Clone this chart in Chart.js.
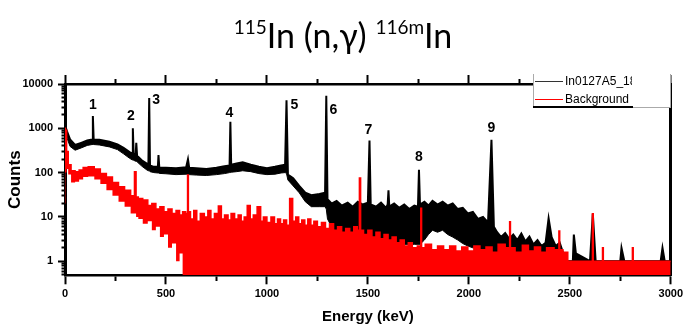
<!DOCTYPE html>
<html>
<head>
<meta charset="utf-8">
<script src="https://cdn.jsdelivr.net/npm/chart.js@4.4.0/dist/chart.umd.min.js"></script>
<style>
  html, body { margin: 0; padding: 0; background: #fff; }
  #wrap { position: relative; width: 686px; height: 326px; }
  #chart { position: absolute; left: 0; top: 0; }
  #title { position: absolute; left: 0; top: 12px; width: 686px; text-align: center;
           font-family: Lato, "Open Sans", sans-serif; font-size: 34px; line-height: 46px; color: #000; }
  #title sup { font-size: 19px; vertical-align: top; line-height: 30px; }
</style>
</head>
<body>
<div id="wrap">
  <canvas id="chart" width="686" height="326"></canvas>
  <div id="title"><sup>115</sup>In (n,γ) <sup>116m</sup>In</div>
</div>
<script>
// measured spectrum (black) : energy keV, upper / lower edge of the noisy trace
const blkE  = [2, 5, 10, 25, 50, 80, 110, 134, 138, 142, 170, 220, 260, 290, 320, 332, 336, 340, 350, 353, 357,
  380, 405, 413, 417, 421, 440, 460, 463, 467, 500, 550, 600, 609, 615, 650, 700, 750, 790, 815, 819, 823,
  850, 880, 920, 960, 1000, 1040, 1070, 1090, 1097, 1104, 1130, 1160, 1190, 1220, 1260, 1288, 1294, 1300,
  1320, 1345, 1370, 1400, 1425, 1450, 1475, 1500, 1508, 1514, 1540, 1565, 1590, 1598, 1602, 1606,
  1630, 1655, 1680, 1705, 1730, 1748, 1753, 1758, 1780, 1800, 1820, 1845, 1870, 1895, 1920, 1945, 1970,
  1995, 2020, 2045, 2070, 2095, 2112, 2124, 2140, 2160, 2180, 2200, 2220, 2240, 2260, 2280, 2300, 2320,
  2340, 2360, 2380, 2395, 2410, 2430, 2450, 2480, 2515, 2520, 2530, 2600, 2614, 2628, 2750, 2756, 2770,
  2950, 2959, 2970, 3000];
const blkHi = [1100, 1000, 850, 560, 420, 470, 530, 560, 1900, 560, 550, 500, 430, 360, 290, 270, 1000, 260, 250, 470, 240,
  190, 160, 150, 4800, 145, 135, 135, 250, 130, 128, 125, 132, 200, 128, 125, 120, 128, 140, 145, 1400, 150,
  160, 170, 150, 135, 125, 135, 145, 150, 4300, 90, 75, 50, 35, 31, 33, 35, 5400, 25,
  20, 23, 18, 21, 17, 22, 19, 21, 530, 19, 17, 21, 16, 19, 40, 17,
  20, 16, 19, 15, 18, 17, 115, 19, 22, 18, 23, 19, 22, 18, 20, 15, 16,
  12, 13, 9, 10, 7.5, 547, 6, 4.5, 3.5, 4.3, 3.2, 4, 3, 4.2, 2.8, 3.6, 2.4,
  3, 2.2, 2.6, 9.3, 3.5, 2.2, 2.6, 1, 1, 4, 1.5, 1, 11.7, 1, 1, 2, 1,
  1, 2, 1, 1];
const blkLo = [1, 600, 600, 390, 320, 360, 410, 430, 430, 430, 420, 380, 330, 265, 210, 195, 195, 190, 180, 180, 175,
  140, 115, 110, 110, 105, 100, 98, 98, 96, 94, 90, 92, 92, 90, 88, 86, 90, 95, 100, 100, 102,
  105, 110, 105, 95, 90, 92, 98, 100, 95, 68, 50, 35, 22, 17, 17, 17, 15, 9,
  6, 4.5, 4, 4, 4, 4, 4, 3.5, 3.5, 3.5, 3, 3, 3, 3, 3, 3,
  2.6, 2.6, 2.4, 2.4, 2.4, 2.4, 2.4, 2.4, 3, 4, 5, 4.5, 5, 4, 3.5, 3, 2.5,
  2.2, 2, 2, 1.5, 1.5, 1.5, 1, 1, 1, 1, 1, 1, 1, 1, 1, 1, 1,
  1, 1, 1, 1, 1, 1, 1, 1, 1, 1, 1, 1, 1, 1, 1, 1, 1,
  1, 1, 1, 1];

// background spectrum (red)
const redE  = [0, 4, 12, 20, 40, 60, 80, 100, 130, 160, 190, 220, 250, 280, 310, 340, 348, 356, 370, 400, 420,
  440, 460, 480, 500, 520, 540, 560, 575, 590, 605, 609, 613, 630, 645, 660, 680, 700, 715, 730, 750, 769,
  780, 800, 815, 830, 850, 865, 880, 895, 910, 925, 940, 963, 975, 990, 1010, 1030, 1045, 1060, 1075,
  1090, 1105, 1120, 1135, 1150, 1165, 1180, 1195, 1210, 1225, 1240, 1260, 1280, 1300, 1320, 1340, 1360,
  1380, 1400, 1420, 1440, 1455, 1461, 1467, 1490, 1510, 1530, 1550, 1570, 1590, 1610, 1630, 1650, 1670,
  1690, 1710, 1730, 1760, 1764, 1768, 1800, 1830, 1860, 1890, 1920, 1950, 1980, 2010, 2040, 2070, 2100,
  2130, 2160, 2200, 2204, 2208, 2250, 2280, 2310, 2340, 2370, 2400, 2444, 2448, 2452, 2480, 2500, 2610,
  2614, 2618, 2660, 2664, 2668, 2808, 2812, 2816, 3000];
const redHi = [1000, 900, 300, 150, 110, 105, 115, 130, 135, 120, 95, 80, 60, 48, 40, 30, 105, 28, 26, 24, 18,
  20, 15, 17, 13, 15, 12, 14, 11, 13, 12, 88, 13, 9, 14, 8, 12, 10, 14, 9, 12, 17.7,
  9, 11, 8.5, 12, 9, 11, 8, 10, 18, 9, 11, 17, 8, 10, 7.5, 10, 7, 9, 7,
  8.5, 6.5, 26, 8, 10, 7, 8.5, 6.5, 9, 6.5, 8, 6, 7.5, 5.5, 7, 5, 6,
  4.5, 5.5, 4.5, 6, 5, 75, 5, 4, 5, 3.5, 4.5, 3.2, 4, 3, 3.5, 2.6, 3,
  2.2, 2.6, 2, 2.2, 15.7, 2, 2.4, 1.8, 2.2, 1.8, 2.2, 1.7, 2.1, 1.7, 2.2, 1.8, 2.1,
  1.6, 2.4, 2, 7.8, 2, 1.6, 2.3, 1.7, 2.1, 1.6, 2, 1.8, 4.8, 1.8, 1.6, 1, 1,
  11.7, 1, 1, 2, 1, 1, 2, 1, 1];
const redLo = [20, 100, 120, 90, 60, 62, 70, 80, 82, 70, 55, 40, 30, 22, 17, 12, 12, 10, 9, 7, 8,
  5, 6, 3.5, 4, 2, 2.5, 1, 1.5, 0.48, 0.48, 0.48, 0.48, 0.48, 0.48, 0.48, 0.48, 0.48, 0.48, 0.48, 0.48, 0.48,
  0.48, 0.48, 0.48, 0.48, 0.48, 0.48, 0.48, 0.48, 0.48, 0.48, 0.48, 0.48, 0.48, 0.48, 0.48, 0.48, 0.48, 0.48, 0.48,
  0.48, 0.48, 0.48, 0.48, 0.48, 0.48, 0.48, 0.48, 0.48, 0.48, 0.48, 0.48, 0.48, 0.48, 0.48, 0.48, 0.48,
  0.48, 0.48, 0.48, 0.48, 0.48, 0.48, 0.48, 0.48, 0.48, 0.48, 0.48, 0.48, 0.48, 0.48, 0.48, 0.48, 0.48,
  0.48, 0.48, 0.48, 0.48, 0.48, 0.48, 0.48, 0.48, 0.48, 0.48, 0.48, 0.48, 0.48, 0.48, 0.48, 0.48, 0.48,
  0.48, 0.48, 0.48, 0.48, 0.48, 0.48, 0.48, 0.48, 0.48, 0.48, 0.48, 0.48, 0.48, 0.48, 0.48, 0.48, 0.48,
  0.48, 0.48, 0.48, 0.48, 0.48, 0.48, 0.48, 0.48, 0.48];

// labelled In-116m / In-115m lines
const peakE   = [138, 336, 417, 819, 1097, 1294, 1508, 1753, 2112];
const peakTag = ['1', '2', '3', '4', '5', '6', '7', '8', '9'];

const seriesNames = ['In0127A5_18', 'Background'];
const xTicks = [0, 250, 500, 750, 1000, 1250, 1500, 1750, 2000, 2250, 2500, 2750, 3000];
const yMajor = [1, 10, 100, 1000, 10000];
const yTicks = [0.5, 0.6, 0.7, 0.8, 0.9, 1, 2, 3, 4, 5, 6, 7, 8, 9, 10, 20, 30, 40, 50, 60, 70, 80, 90,
  100, 200, 300, 400, 500, 600, 700, 800, 900, 1000, 2000, 3000, 4000, 5000, 6000, 7000, 8000, 9000, 10000];

const pts = (xs, ys) => xs.map((x, i) => ({ x: x, y: ys[i] }));

const boldFont = size => ({ family: 'Arial, "Liberation Sans"', weight: 'bold', size: size });

// minor ticks: shorter mark, drawn with a dash so only the part next to the axis shows
const dashBottom = c => (c.tick && c.tick.value % 500 !== 0) ? [4.5, 30] : [];
const dashTop = c => (c.tick && c.tick.value % 500 !== 0) ? [0, 4, 5, 30] : [];
const dashLeft = c => (c.tick && !yMajor.includes(c.tick.value)) ? [0, 3.5, 4, 30] : [];

const labelOffsets = [[0, -11], [-2, -12], [7, 2], [-1, -9], [8, 5], [7, 14], [-1, -10], [0, -13], [0, -12]];

const peakLabels = {
  id: 'peakLabels',
  afterDatasetsDraw(chart) {
    const c = chart.ctx, xs = chart.scales.x, ys = chart.scales.y;
    c.save();
    c.fillStyle = '#000';
    c.font = 'bold 14px Arial, "Liberation Sans"';
    c.textAlign = 'center';
    c.textBaseline = 'middle';
    peakE.forEach((e, i) => {
      const h = blkHi[blkE.indexOf(e)];
      c.fillText(peakTag[i], xs.getPixelForValue(e) + labelOffsets[i][0], ys.getPixelForValue(h) + labelOffsets[i][1]);
    });
    c.restore();
  }
};

const boxLegend = {
  id: 'boxLegend',
  afterDraw(chart) {
    const c = chart.ctx;
    c.save();
    c.fillStyle = '#fff';
    c.fillRect(533, 74, 138, 34);
    c.strokeStyle = '#aaa';
    c.lineWidth = 1;
    c.beginPath();
    c.moveTo(533.5, 74); c.lineTo(533.5, 107);
    c.moveTo(670.5, 74); c.lineTo(670.5, 108);
    c.moveTo(633, 107.5); c.lineTo(671, 107.5);
    c.stroke();
    c.strokeStyle = '#000';
    c.lineWidth = 2;
    c.beginPath();
    c.moveTo(533, 107); c.lineTo(633, 107);
    c.stroke();
    // sample lines
    c.lineWidth = 1;
    c.strokeStyle = '#333';
    c.beginPath(); c.moveTo(535, 81.5); c.lineTo(563, 81.5); c.stroke();
    c.strokeStyle = '#f00';
    c.beginPath(); c.moveTo(535, 99.5); c.lineTo(563, 99.5); c.stroke();
    c.beginPath();
    c.rect(533, 74, 99, 34);
    c.clip();
    c.fillStyle = '#000';
    c.font = '12px Arial, "Liberation Sans"';
    c.textAlign = 'left';
    c.textBaseline = 'middle';
    c.fillText(seriesNames[0], 565, 82);
    c.fillText(seriesNames[1], 565, 99.5);
    c.restore();
  }
};

const ctx = document.getElementById('chart').getContext('2d');

const chart = new Chart(ctx, {
  type: 'line',
  data: {
    datasets: [
      { label: seriesNames[1], data: pts(redE, redHi), borderColor: '#ff0000', borderWidth: 1.5,
        stepped: 'middle', fill: false },
      { label: seriesNames[1] + ' low', data: pts(redE, redLo), borderColor: '#ff0000', borderWidth: 0,
        stepped: 'middle', backgroundColor: '#ff0000', fill: '-1' },
      { label: seriesNames[0], data: pts(blkE, blkHi), borderColor: '#000', borderWidth: 2, fill: false },
      { label: seriesNames[0] + ' low', data: pts(blkE, blkLo), borderColor: '#000', borderWidth: 1,
        backgroundColor: '#000', fill: '-1' }
    ]
  },
  options: {
    responsive: false,
    animation: false,
    devicePixelRatio: 1,
    layout: { padding: 0 },
    elements: { point: { radius: 0 }, line: { tension: 0 } },
    plugins: { legend: { display: false }, tooltip: { enabled: false } },
    scales: {
      x: {
        type: 'linear', position: 'bottom', min: 0, max: 3000,
        afterBuildTicks: s => { s.ticks = xTicks.map(v => ({ value: v })); },
        afterFit: s => { s.height = 50.7; },
        ticks: { autoSkip: false, maxRotation: 0, padding: 3, color: '#000', font: boldFont(11),
                 callback: v => (v % 500 === 0 ? String(v) : '') },
        grid: { drawOnChartArea: false, tickLength: 9, tickWidth: 2, tickColor: '#000', tickBorderDash: dashBottom },
        border: { color: '#000', width: 2.5 },
        title: { display: true, text: 'Energy (keV)', color: '#000', font: boldFont(15), padding: { top: 0, bottom: 0 } }
      },
      xTop: {
        type: 'linear', position: 'top', min: 0, max: 3000,
        afterBuildTicks: s => { s.ticks = xTicks.map(v => ({ value: v })); },
        afterFit: s => { s.height = 84; },
        ticks: { display: false },
        grid: { drawOnChartArea: false, tickLength: 9, tickWidth: 2, tickColor: '#000', tickBorderDash: dashTop },
        border: { color: '#000', width: 2.5 }
      },
      y: {
        type: 'logarithmic', position: 'left', min: 0.48, max: 10000,
        afterBuildTicks: s => { s.ticks = yTicks.map(v => ({ value: v })); },
        afterFit: s => { s.width = 65; },
        ticks: { autoSkip: false, padding: 5, color: '#000', font: boldFont(11),
                 callback: v => (yMajor.includes(v) ? String(v) : '') },
        grid: { drawOnChartArea: false, tickLength: 7, tickWidth: 2, tickColor: '#000', tickBorderDash: dashLeft },
        border: { color: '#000', width: 3 },
        title: { display: true, text: 'Counts', color: '#000', font: boldFont(17), padding: { top: 5, bottom: 0 } }
      },
      yRight: {
        type: 'logarithmic', position: 'right', min: 0.48, max: 10000,
        afterFit: s => { s.width = 9.5; },
        ticks: { display: false },
        grid: { display: false },
        border: { color: '#000', width: 3 }
      }
    }
  },
  plugins: [peakLabels, boxLegend]
});
</script>
</body>
</html>
